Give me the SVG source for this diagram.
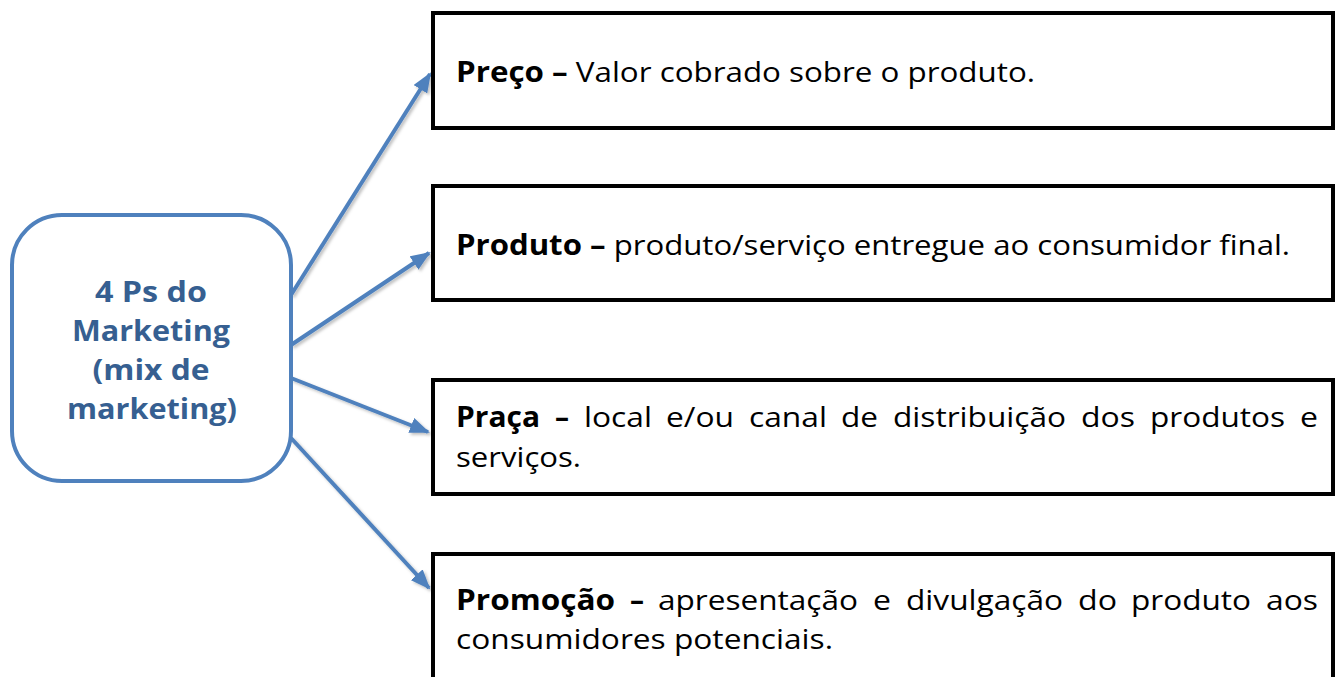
<svg xmlns="http://www.w3.org/2000/svg" width="1336" height="677" viewBox="0 0 1336 677">
<style>
.box{fill:#fff;stroke:#000;stroke-width:4}
.hub{fill:#fff;stroke:#4f81bd;stroke-width:4}
.hubt{font-family:"Open Sans",Lato,sans-serif;font-weight:bold;font-size:28px;fill:#365f91;text-anchor:middle}
.t{font-family:"Open Sans",Lato,sans-serif;font-size:28px;fill:#000}
.b{font-weight:bold}
.con{stroke:#4f81bd;stroke-width:4;fill:none;marker-end:url(#ah);filter:url(#sh)}
</style>
<defs>
<marker id="ah" markerUnits="userSpaceOnUse" markerWidth="20" markerHeight="16" refX="18" refY="8" orient="auto">
<path d="M0,0 L20,8 L0,16 Z" fill="#4f81bd"/>
</marker>
<filter id="sh" x="-20%" y="-20%" width="140%" height="140%">
<feDropShadow dx="2" dy="2" stdDeviation="1.5" flood-color="#000" flood-opacity="0.25"/>
</filter>
</defs>
<g id="connectors">
<line class="con" x1="291" y1="295" x2="430" y2="74"/>
<line class="con" x1="291" y1="345" x2="429" y2="253"/>
<line class="con" x1="291" y1="378" x2="428" y2="432"/>
<line class="con" x1="291" y1="438" x2="429" y2="588"/>
</g>
<g id="hub">
<rect class="hub" x="12" y="215" width="279" height="266" rx="50"/>
<text class="hubt" x="151" y="302" textLength="112" lengthAdjust="spacingAndGlyphs">4 Ps do</text>
<text class="hubt" x="151" y="341" textLength="158" lengthAdjust="spacingAndGlyphs">Marketing</text>
<text class="hubt" x="151" y="380" textLength="117" lengthAdjust="spacingAndGlyphs">(mix de</text>
<text class="hubt" x="152" y="419" textLength="170" lengthAdjust="spacingAndGlyphs">marketing)</text>
</g>
<g id="preco">
<rect class="box" x="433" y="13" width="900" height="115"/>
<text class="t" x="456" y="82" textLength="579" lengthAdjust="spacingAndGlyphs"><tspan class="b">Preço –</tspan> Valor cobrado sobre o produto.</text>
</g>
<g id="produto">
<rect class="box" x="433" y="186" width="900" height="114"/>
<text class="t" x="456" y="255" textLength="834" lengthAdjust="spacingAndGlyphs"><tspan class="b">Produto –</tspan> produto/serviço entregue ao consumidor final.</text>
</g>
<g id="praca">
<rect class="box" x="433" y="380" width="900" height="114"/>
<text class="t" y="427"><tspan class="b" x="456" textLength="84" lengthAdjust="spacingAndGlyphs">Praça</tspan> <tspan class="b" x="555" textLength="14" lengthAdjust="spacingAndGlyphs">–</tspan> <tspan x="584" textLength="68" lengthAdjust="spacingAndGlyphs">local</tspan> <tspan x="666" textLength="68" lengthAdjust="spacingAndGlyphs">e/ou</tspan> <tspan x="749" textLength="78" lengthAdjust="spacingAndGlyphs">canal</tspan> <tspan x="841" textLength="37" lengthAdjust="spacingAndGlyphs">de</tspan> <tspan x="893" textLength="173" lengthAdjust="spacingAndGlyphs">distribuição</tspan> <tspan x="1081" textLength="54" lengthAdjust="spacingAndGlyphs">dos</tspan> <tspan x="1150" textLength="135" lengthAdjust="spacingAndGlyphs">produtos</tspan> <tspan x="1300" textLength="18" lengthAdjust="spacingAndGlyphs">e</tspan></text>
<text class="t" x="456" y="467" textLength="125" lengthAdjust="spacingAndGlyphs">serviços.</text>
</g>
<g id="promocao">
<rect class="box" x="433" y="554" width="900" height="140"/>
<text class="t" y="610"><tspan class="b" x="456" textLength="159" lengthAdjust="spacingAndGlyphs">Promoção</tspan> <tspan class="b" x="630" textLength="14" lengthAdjust="spacingAndGlyphs">–</tspan> <tspan x="658" textLength="200" lengthAdjust="spacingAndGlyphs">apresentação</tspan> <tspan x="873" textLength="18" lengthAdjust="spacingAndGlyphs">e</tspan> <tspan x="906" textLength="157" lengthAdjust="spacingAndGlyphs">divulgação</tspan> <tspan x="1078" textLength="39" lengthAdjust="spacingAndGlyphs">do</tspan> <tspan x="1131" textLength="120" lengthAdjust="spacingAndGlyphs">produto</tspan> <tspan x="1266" textLength="52" lengthAdjust="spacingAndGlyphs">aos</tspan></text>
<text class="t" x="456" y="649" textLength="377" lengthAdjust="spacingAndGlyphs">consumidores potenciais.</text>
</g>
</svg>
